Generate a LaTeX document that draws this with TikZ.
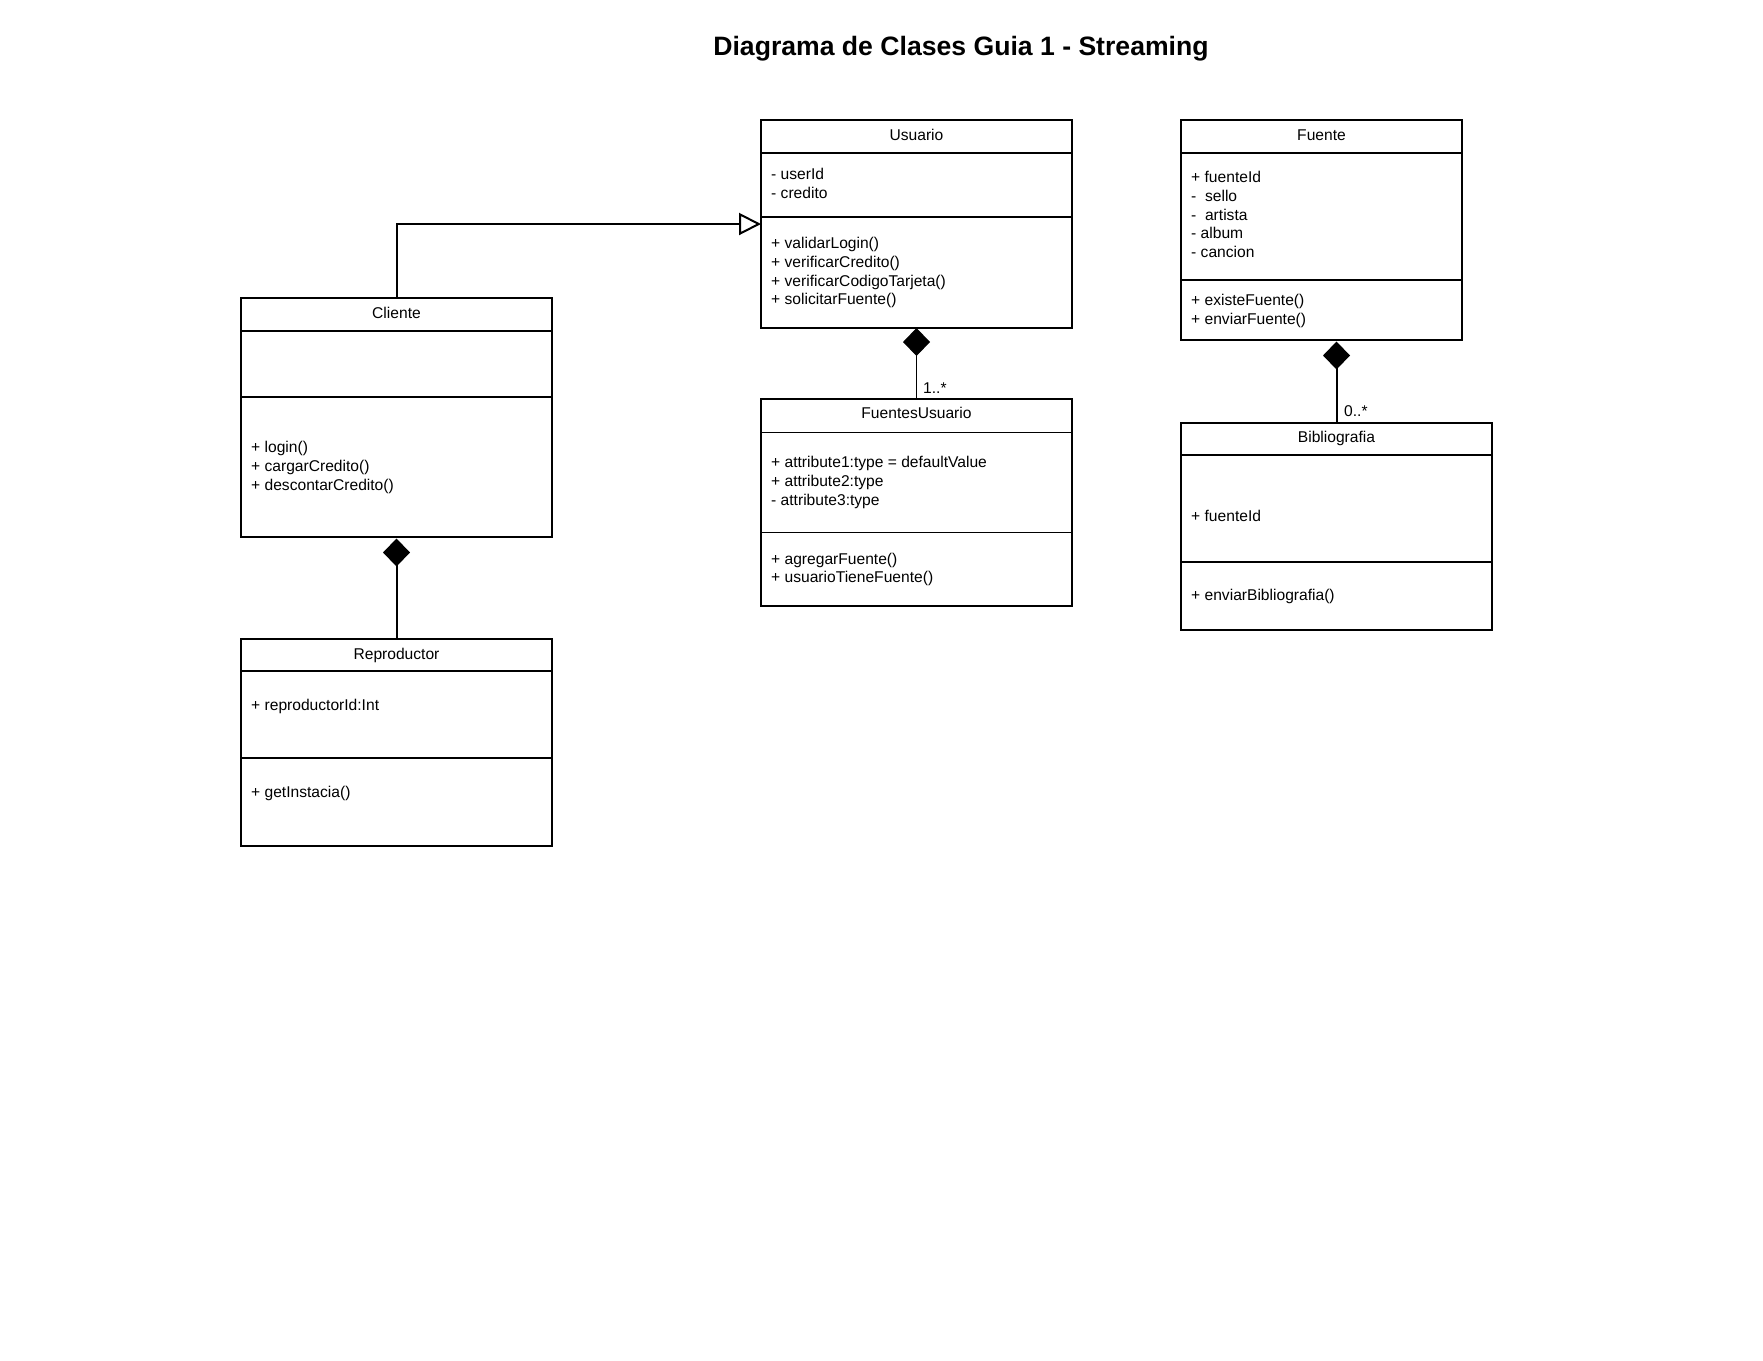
\documentclass[tikz,border=0pt]{standalone}
\usepackage{fontspec}
\setmainfont{Liberation Sans}
\usetikzlibrary{arrows.meta}
\begin{document}
\begin{tikzpicture}[x=1pt,y=-1pt,
  box/.style={draw, line width=1.8pt, rectangle, anchor=north west, inner sep=0pt, outer sep=0pt},
  sep/.style={line width=1.8pt},
  thinsep/.style={line width=1pt},
  head/.style={font=\fontsize{15.6}{18.8}\selectfont, anchor=base, inner sep=0pt},
  body/.style={font=\fontsize{15.6}{18.8}\selectfont, anchor=north west, inner sep=0pt, align=left},
  comp/.style={line width=2pt, -{Diamond[length=28pt,width=27pt]}},
  gen/.style={line width=2pt, -{Triangle[open,length=22pt,width=22pt]}},
  mult/.style={font=\fontsize{15.6}{18.8}\selectfont, anchor=base west, inner sep=0pt}
]
% canvas
\fill[white] (0,0) rectangle (1763,1360);
\useasboundingbox (0,0) rectangle (1763,1360);

% title
\node[font=\fontsize{26.6}{32}\selectfont\bfseries, anchor=base, inner sep=0pt] (title) at (961,55) {Diagrama de Clases Guia 1 - Streaming};

% Usuario
\node[box, minimum width=311pt, minimum height=208pt] (usuario) at (761,120) {};
\draw[sep] (usuario.west |- 0,153) -- (usuario.east |- 0,153);
\draw[sep] (usuario.west |- 0,217) -- (usuario.east |- 0,217);
\node[head] (usuario-t) at (916.5,140.2) {Usuario};
\node[body] (usuario-a) at (771,166.2) {\strut- userId\\- credito};
\node[body] (usuario-m) at (771,235.2) {\strut+ validarLogin()\\+ verificarCredito()\\+ verificarCodigoTarjeta()\\+ solicitarFuente()};

% Fuente
\node[box, minimum width=281pt, minimum height=220pt] (fuente) at (1181,120) {};
\draw[sep] (fuente.west |- 0,153) -- (fuente.east |- 0,153);
\draw[sep] (fuente.west |- 0,280) -- (fuente.east |- 0,280);
\node[head] (fuente-t) at (1321.5,140.2) {Fuente};
\node[body] (fuente-a) at (1191,169.2) {\strut+ fuenteId\\-\ \ sello\\-\ \ artista\\- album\\- cancion};
\node[body] (fuente-m) at (1191,292.2) {\strut+ existeFuente()\\+ enviarFuente()};

% Cliente
\node[box, minimum width=311pt, minimum height=239pt] (cliente) at (241,298) {};
\draw[sep] (cliente.west |- 0,331) -- (cliente.east |- 0,331);
\draw[sep] (cliente.west |- 0,397) -- (cliente.east |- 0,397);
\node[head] (cliente-t) at (396.5,318.8) {Cliente};
\node[body] (cliente-m) at (251,439.2) {\strut+ login()\\+ cargarCredito()\\+ descontarCredito()};

% Reproductor
\node[box, minimum width=311pt, minimum height=207pt] (reproductor) at (241,639) {};
\draw[sep] (reproductor.west |- 0,671) -- (reproductor.east |- 0,671);
\draw[sep] (reproductor.west |- 0,758) -- (reproductor.east |- 0,758);
\node[head] (reproductor-t) at (396.5,659.2) {Reproductor};
\node[body] (reproductor-a) at (251,697.2) {\strut+ reproductorId:Int};
\node[body] (reproductor-m) at (251,784.2) {\strut+ getInstacia()};

% FuentesUsuario
\node[box, minimum width=311pt, minimum height=207pt] (fuentesusuario) at (761,399) {};
\draw[thinsep] (fuentesusuario.west |- 0,432) -- (fuentesusuario.east |- 0,432);
\draw[thinsep] (fuentesusuario.west |- 0,532) -- (fuentesusuario.east |- 0,532);
\node[head] (fuentesusuario-t) at (916.5,418.8) {FuentesUsuario};
\node[body] (fuentesusuario-a) at (771,454.2) {\strut+ attribute1:type = defaultValue\\+ attribute2:type\\- attribute3:type};
\node[body] (fuentesusuario-m) at (771,550.7) {\strut+ agregarFuente()\\+ usuarioTieneFuente()};

% Bibliografia
\node[box, minimum width=311pt, minimum height=207pt] (bibliografia) at (1181,423) {};
\draw[sep] (bibliografia.west |- 0,455) -- (bibliografia.east |- 0,455);
\draw[sep] (bibliografia.west |- 0,562) -- (bibliografia.east |- 0,562);
\node[head] (bibliografia-t) at (1336.5,442.2) {Bibliografia};
\node[body] (bibliografia-a) at (1191,508.2) {\strut+ fuenteId};
\node[body] (bibliografia-m) at (1191,586.7) {\strut+ enviarBibliografia()};

% relations
\draw[gen] (cliente.north) |- (usuario.west);
\draw[comp, line width=1.2pt] (fuentesusuario.north) -- (usuario.south);
\draw[comp] (reproductor.north) -- ([yshift=-1.5pt]cliente.south);
\draw[comp] (bibliografia.north) -- ([yshift=-1.5pt]bibliografia.north |- fuente.south);

% multiplicities
\node[mult] (mult-fu) at (923,393.2) {1..*};
\node[mult] (mult-bib) at (1344,416.2) {0..*};
\end{tikzpicture}
\end{document}
